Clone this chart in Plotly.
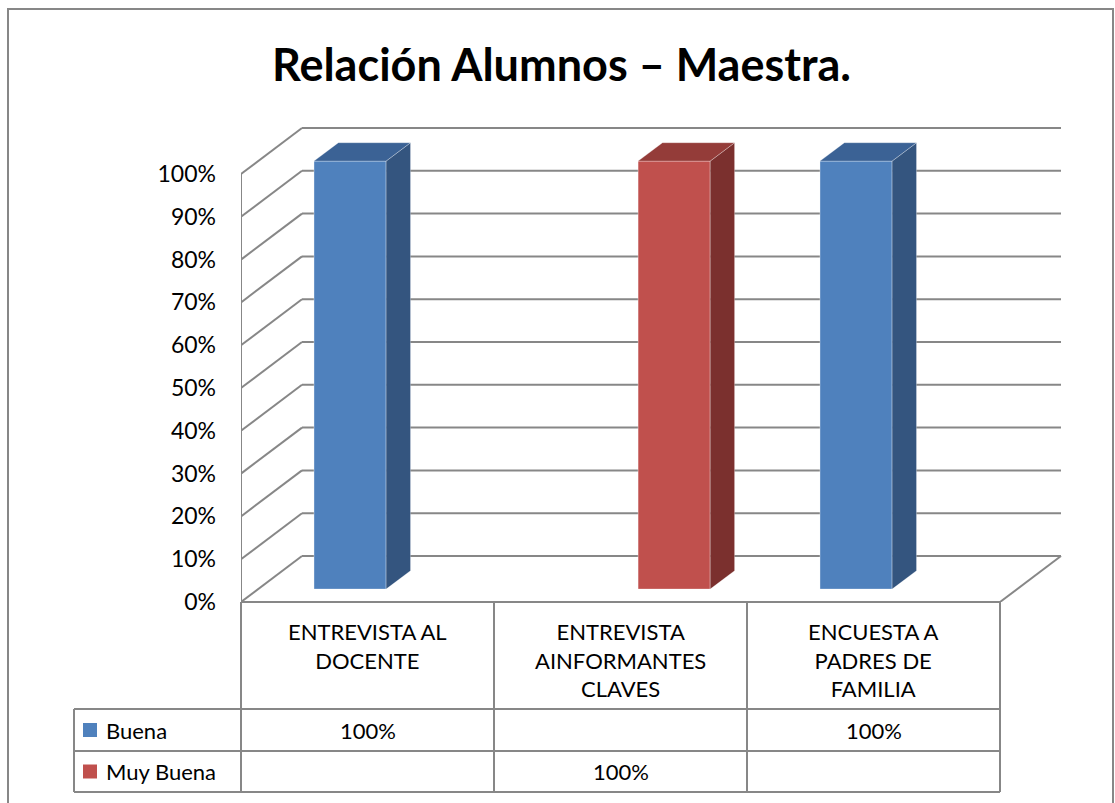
import plotly.graph_objects as go

# ---------------- data ----------------
title_text = "Relación Alumnos – Maestra."
categories = ["ENTREVISTA AL<br>DOCENTE", "ENTREVISTA<br>AINFORMANTES<br>CLAVES", "ENCUESTA A<br>PADRES DE<br>FAMILIA"]
series_names = ["Buena", "Muy Buena"]
buena = [1.0, None, 1.0]
muy_buena = [None, 1.0, None]
tick_values = [0.0, 0.1, 0.2, 0.3, 0.4, 0.5, 0.6, 0.7, 0.8, 0.9, 1.0]
tick_labels = ["0%", "10%", "20%", "30%", "40%", "50%", "60%", "70%", "80%", "90%", "100%"]

# ---------------- styling / geometry ----------------
FONT = "Lato"
GRID = "#878787"
front_cols = ["#4F81BD", "#C0504D"]
side_cols = ["#34557F", "#7B302E"]
top_cols = ["#3B6295", "#943C39"]

W_PX, H_PX = 1115, 803
L, R, T, B = 241, 50, 126, 201
plot_w = W_PX - L - R
plot_h = H_PX - T - B
CAT_PX = 253.0      # pixels per category
VAL_PX = 428.0      # pixels per 100%
DX = 61 / CAT_PX    # depth offset in category units
DY = 46 / VAL_PX    # depth offset in value units
Z1, Z2 = 0.28, 0.68  # depth of front / back faces of bars
BW = 0.285           # bar width (category units)
OFFS = [-0.279, 0.002]  # slot offset for each series

x0 = -0.5
xr = x0 + plot_w / CAT_PX
yr = plot_h / VAL_PX
n = len(categories)


def px_x(px):
    return (px - L) / plot_w


def px_y(py):
    return (H_PX - B - py) / plot_h


def cat_px(c):
    return L + (c + 0.5) * CAT_PX


fig = go.Figure()

# bars (front faces)
series_vals = [buena, muy_buena]
for s, vals in enumerate(series_vals):
    fig.add_trace(go.Bar(
        x=list(range(n)), y=vals, base=[Z1 * DY] * n,
        width=BW, offset=OFFS[s] + Z1 * DX,
        marker=dict(color=front_cols[s], line=dict(width=0.8, color="rgba(255,255,255,0.45)")),
        name=series_names[s], showlegend=False, hoverinfo="skip"))

# side and top faces
d = Z2 - Z1
for s, vals in enumerate(series_vals):
    sx, sy, tx, ty = [], [], [], []
    for i, v in enumerate(vals):
        if v is None:
            continue
        xl = i + OFFS[s] + Z1 * DX
        xrr = xl + BW
        yb = Z1 * DY
        yt = yb + v
        sx += [xrr, xrr, xrr + d * DX, xrr + d * DX, xrr, None]
        sy += [yb, yt, yt + d * DY, yb + d * DY, yb, None]
        tx += [xl, xrr, xrr + d * DX, xl + d * DX, xl, None]
        ty += [yt, yt, yt + d * DY, yt + d * DY, yt, None]
    fig.add_trace(go.Scatter(x=sx, y=sy, fill="toself", fillcolor=side_cols[s], mode="lines",
                             line=dict(width=0.8, color="rgba(255,255,255,0.35)"),
                             showlegend=False, hoverinfo="skip"))
    fig.add_trace(go.Scatter(x=tx, y=ty, fill="toself", fillcolor=top_cols[s], mode="lines",
                             line=dict(width=0.8, color="rgba(255,255,255,0.35)"),
                             showlegend=False, hoverinfo="skip"))

shapes = []
gl = dict(color=GRID, width=2)
# walls: gridlines on back wall and diagonals on side wall
for v in tick_values:
    shapes.append(dict(type="line", xref="x", yref="y", x0=x0, y0=v, x1=x0 + DX, y1=v + DY,
                       line=gl, layer="below"))
    shapes.append(dict(type="line", xref="x", yref="y", x0=x0 + DX, y0=v + DY, x1=x0 + n + DX, y1=v + DY,
                       line=gl, layer="below"))
# front-left vertical edge and floor right edge
shapes.append(dict(type="line", xref="x", yref="y", x0=x0, y0=0, x1=x0, y1=tick_values[-1], line=gl, layer="below"))
shapes.append(dict(type="line", xref="x", yref="y", x0=x0 + n, y0=0, x1=x0 + n + DX, y1=DY, line=gl, layer="below"))

# data table (paper coordinates derived from pixel layout)
tbl_top = H_PX - B
row1, row2, row3 = 709, 751, 792
tbl_left = 74
bounds = [cat_px(x0 + k) for k in range(n + 1)]
shapes.append(dict(type="line", xref="paper", yref="paper", x0=px_x(bounds[0]), y0=px_y(tbl_top),
                   x1=px_x(bounds[-1]), y1=px_y(tbl_top), line=gl))
for bx in bounds:
    shapes.append(dict(type="line", xref="paper", yref="paper", x0=px_x(bx), y0=px_y(tbl_top),
                       x1=px_x(bx), y1=px_y(row3), line=gl))
for ry in [row1, row2, row3]:
    shapes.append(dict(type="line", xref="paper", yref="paper", x0=px_x(tbl_left), y0=px_y(ry),
                       x1=px_x(bounds[-1]), y1=px_y(ry), line=gl))
shapes.append(dict(type="line", xref="paper", yref="paper", x0=px_x(tbl_left), y0=px_y(row1),
                   x1=px_x(tbl_left), y1=px_y(row3), line=gl))

# legend keys
row_centers = [(row1 + row2) / 2, (row2 + row3) / 2]
for s in range(len(series_names)):
    cy = row_centers[s]
    shapes.append(dict(type="rect", xref="paper", yref="paper", x0=px_x(83), x1=px_x(97),
                       y0=px_y(cy - 7), y1=px_y(cy + 7), fillcolor=front_cols[s], line=dict(width=0)))

# outer border
shapes.append(dict(type="rect", xref="paper", yref="paper", x0=px_x(8), x1=px_x(1113),
                   y0=px_y(815), y1=px_y(9), line=dict(color=GRID, width=2)))

annotations = []
tfont = dict(family=FONT, size=22, color="black")
for i, c in enumerate(categories):
    annotations.append(dict(xref="paper", yref="paper", x=px_x((bounds[i] + bounds[i + 1]) / 2),
                            y=px_y(616), xanchor="center", yanchor="top", text=c, showarrow=False,
                            font=tfont, align="center"))
for s, vals in enumerate(series_vals):
    cy = row_centers[s]
    annotations.append(dict(xref="paper", yref="paper", x=px_x(104), y=px_y(cy), xanchor="left",
                            yanchor="middle", text=series_names[s], showarrow=False, font=tfont))
    for i, v in enumerate(vals):
        if v is None:
            continue
        annotations.append(dict(xref="paper", yref="paper", x=px_x((bounds[i] + bounds[i + 1]) / 2),
                                y=px_y(cy), xanchor="center", yanchor="middle",
                                text=f"{v * 100:.0f}%", showarrow=False, font=tfont))

fig.update_layout(
    width=W_PX, height=H_PX,
    margin=dict(l=L, r=R, t=T, b=B, pad=0),
    paper_bgcolor="white", plot_bgcolor="white",
    barmode="overlay",
    title=dict(text=f"<b>{title_text}</b>", x=(273 + 850) / 2 / W_PX, xref="container", xanchor="center",
               y=1 - 65 / H_PX, yref="container", yanchor="middle",
               font=dict(family=FONT, size=45, color="black")),
    xaxis=dict(range=[x0, xr], visible=False, fixedrange=True),
    yaxis=dict(range=[0, yr], tickvals=tick_values, ticktext=tick_labels, showgrid=False,
               zeroline=False, showline=False, ticks="", ticklabelstandoff=24,
               tickfont=dict(family=FONT, size=23, color="black"), fixedrange=True),
    shapes=shapes, annotations=annotations,
    showlegend=False,
)

fig.write_html("out.html", config={"displayModeBar": False},
               post_script="document.body.style.margin='0px';document.body.style.overflow='hidden';")
